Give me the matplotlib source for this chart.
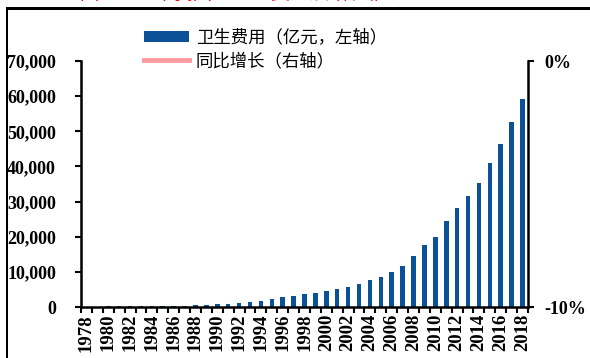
import matplotlib
matplotlib.use("Agg")
import matplotlib.pyplot as plt
from matplotlib.patches import Rectangle
from matplotlib.ticker import FixedLocator, FuncFormatter

# 卫生总费用（亿元），1978-2018
years = list(range(1978, 2019))
spending = [110.21, 126.19, 143.23, 160.12, 177.53, 207.42, 242.07, 279.00,
            315.90, 379.58, 488.04, 615.50, 747.39, 893.49, 1096.86, 1377.78,
            1761.24, 2155.13, 2709.42, 3196.71, 3678.72, 4047.50, 4586.63,
            5025.93, 5790.03, 6584.10, 7590.29, 8659.91, 9843.34, 11573.97,
            14535.40, 17541.92, 19980.39, 24345.91, 28119.00, 31668.95,
            35312.40, 40974.64, 46344.88, 52598.28, 59121.91]
# 同比增长（1979-2018）
growth = [0.145, 0.135, 0.118, 0.109, 0.168, 0.167, 0.153, 0.132, 0.202,
          0.286, 0.261, 0.214, 0.195, 0.228, 0.256, 0.278, 0.224, 0.257,
          0.180, 0.151, 0.100, 0.133, 0.096, 0.152, 0.137, 0.153, 0.141,
          0.137, 0.176, 0.256, 0.207, 0.139, 0.218, 0.155, 0.126, 0.115,
          0.160, 0.131, 0.135, 0.124]
left_ticks = [0, 10000, 20000, 30000, 40000, 50000, 60000, 70000]
right_ticks = [-0.10, 0.0]

BAR = "#0a5198"
LINE = "#ff9a9e"
serif = {"family": "Liberation Serif", "weight": "bold", "size": 13}
cjk = ["Noto Sans CJK SC", "DejaVu Sans"]
FP = matplotlib.font_manager.FontProperties

W, H = 590, 358
fig = plt.figure(figsize=(W / 100, H / 100), dpi=100)
ax = fig.add_axes([81 / W, 1 - 307 / H, (528 - 81) / W, (307 - 61) / H])

idx = list(range(len(years)))
bars = ax.bar(idx, spending, width=0.42, color=BAR, zorder=2,
              label="卫生费用（亿元，左轴）")

ax.set_xlim(-0.5, len(years) - 0.5)
ax.set_ylim(0, 70000)
ax.set_yticks(left_ticks)
ax.yaxis.set_major_formatter(FuncFormatter(lambda v, p: f"{int(v):,}"))
for lab in ax.get_yticklabels():
    lab.set_fontproperties(FP(**serif))

# year boundaries as ticks, even years labelled at the bar centres
ax.xaxis.set_major_locator(FixedLocator([i - 0.5 for i in range(len(years) + 1)]))
ax.xaxis.set_major_formatter(FuncFormatter(lambda v, p: ""))
even = [i for i, y in enumerate(years) if y % 2 == 0]
ax.xaxis.set_minor_locator(FixedLocator(even))
ax.xaxis.set_minor_formatter(FuncFormatter(lambda v, p: str(years[int(round(v))])))
ax.tick_params(axis="x", which="major", direction="out", length=4, width=1.5)
ax.tick_params(axis="x", which="minor", length=0, pad=5)
for lab in ax.xaxis.get_minorticklabels():
    lab.set_fontproperties(FP(family="Liberation Serif", weight="bold", size=13.5))
    lab.set_rotation(90)
ax.tick_params(axis="y", direction="out", length=4, width=1.5, pad=14)

for s in ("top", "right"):
    ax.spines[s].set_visible(False)
for s in ("left", "bottom"):
    ax.spines[s].set_linewidth(1.8)

ax2 = ax.twinx()
line, = ax2.plot(idx[1:], growth, color=LINE, linewidth=3.5,
                 label="同比增长（右轴）")
ax2.set_ylim(-0.10, 0.0)
ax2.set_yticks(right_ticks)
ax2.yaxis.set_major_formatter(FuncFormatter(lambda v, p: f"{v * 100:.0f}%"))
for lab in ax2.get_yticklabels():
    lab.set_fontproperties(FP(**serif))
ax2.tick_params(axis="y", direction="out", length=4, width=1.5, pad=8)
for s in ("top", "left", "bottom"):
    ax2.spines[s].set_visible(False)
ax2.spines["right"].set_linewidth(1.8)

fig.legend(handles=[bars, line], loc="upper left",
           bbox_to_anchor=(128 / W, 1 - 13 / H), frameon=False,
           prop={"family": cjk, "size": 12.5}, handlelength=2.6,
           handleheight=0.55, handletextpad=0.4, labelspacing=0.3)

# outer frame: left and top edges of the panel box, as solid 2px bars
px = fig.transFigure.inverted()
fig.patches.append(Rectangle((6 / W, 0), 2 / W, 1 - 7 / H, transform=fig.transFigure,
                             facecolor="black", edgecolor="none", zorder=5))
fig.patches.append(Rectangle((6 / W, 1 - 9.5 / H), 1.0, 2.5 / H,
                             transform=fig.transFigure,
                             facecolor="black", edgecolor="none", zorder=5))
fig.text(80 / W, 1 - 4 / H, "图 1：历年我国卫生总费用及增长情况", color="#e01010",
         family=cjk, fontsize=14, va="bottom", ha="left")

fig.savefig("out.png", dpi=100)
